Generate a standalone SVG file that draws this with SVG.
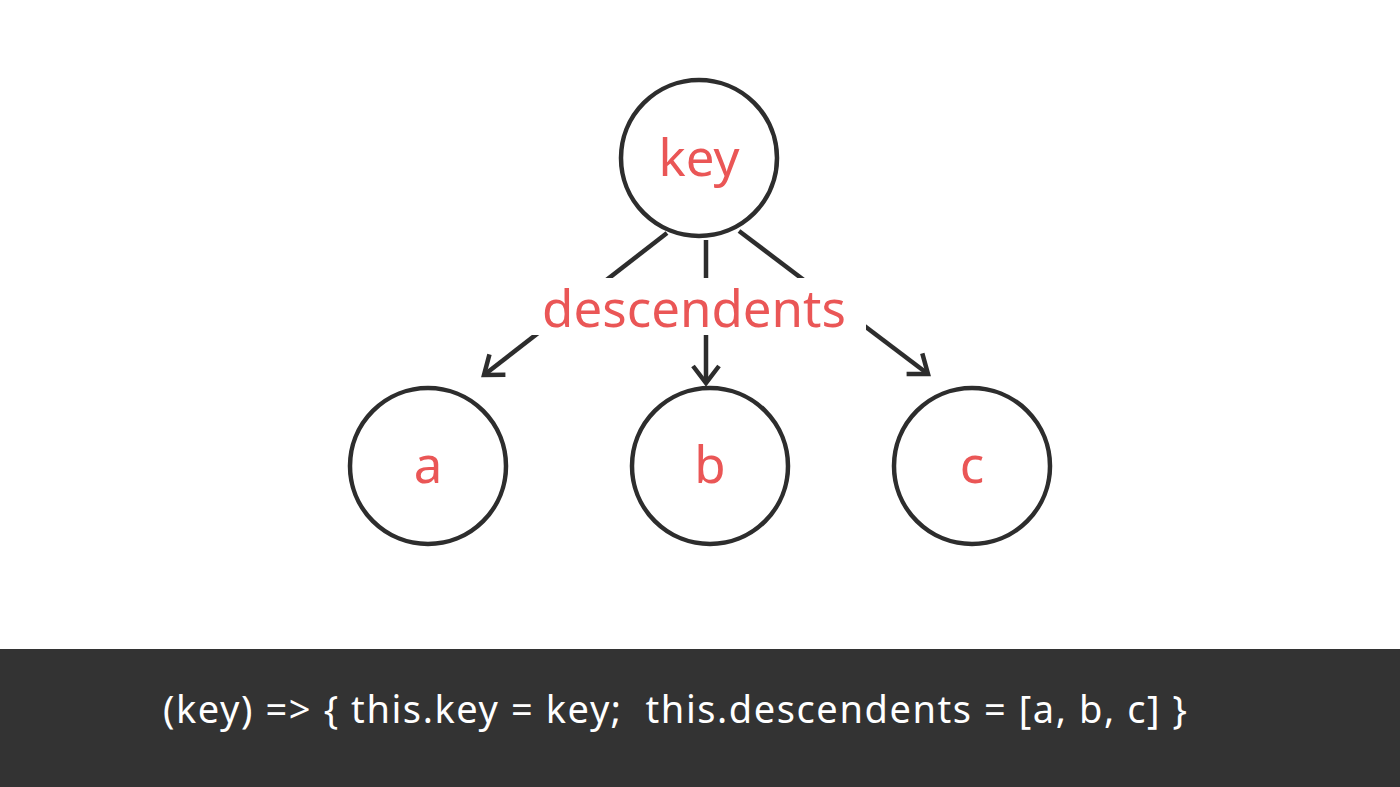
<svg xmlns="http://www.w3.org/2000/svg" width="1400" height="787" viewBox="0 0 1400 787">
<style>
.node{fill:#fff;stroke:#2d2d2d;stroke-width:4.5}
.lbl{font-family:"Noto Sans","Open Sans",sans-serif;font-size:51px;fill:#ea5656;text-anchor:middle}
.edge{stroke:#2d2d2d;stroke-width:4.5;fill:none}
.code{font-family:"Noto Sans","Open Sans",sans-serif;font-size:38px;fill:#fff}
</style>
<defs>
<marker id="arr" markerUnits="userSpaceOnUse" markerWidth="40" markerHeight="40" viewBox="-25 -20 40 40" refX="0" refY="0" orient="auto">
<path d="M-17,-13 L0,0 L-17,13" fill="none" stroke="#2d2d2d" stroke-width="4.5"/>
</marker>
</defs>
<rect width="1400" height="787" fill="#fff"/>
<g id="connectors">
<line class="edge" x1="667" y1="233" x2="484" y2="375" marker-end="url(#arr)"/>
<line class="edge" x1="706" y1="240" x2="706" y2="383" marker-end="url(#arr)"/>
<line class="edge" x1="739" y1="231" x2="928" y2="374" marker-end="url(#arr)"/>
<rect x="530" y="278" width="336" height="57" fill="#fff"/>
<text class="lbl" x="694" y="327">descendents</text>
</g>
<g id="node-key">
<circle class="node" cx="699" cy="158" r="78"/>
<text class="lbl" x="699" y="176">key</text>
</g>
<g id="node-a">
<circle class="node" cx="428" cy="466" r="78"/>
<text class="lbl" x="428" y="483">a</text>
</g>
<g id="node-b">
<circle class="node" cx="710" cy="466" r="78"/>
<text class="lbl" x="710" y="483">b</text>
</g>
<g id="node-c">
<circle class="node" cx="972" cy="466" r="78"/>
<text class="lbl" x="972" y="483">c</text>
</g>
<g id="code-bar">
<rect x="0" y="649" width="1400" height="138" fill="#333333"/>
<text class="code" x="163" y="723" textLength="1024" xml:space="preserve">(key) =&gt; { this.key = key;  this.descendents = [a, b, c] }</text>
</g>
</svg>
